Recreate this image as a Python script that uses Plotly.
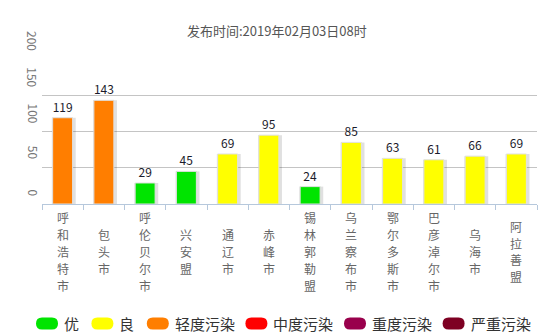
import plotly.graph_objects as go

# ---- data ----
cities = ["呼和浩特市", "包头市", "呼伦贝尔市", "兴安盟", "通辽市", "赤峰市",
          "锡林郭勒盟", "乌兰察布市", "鄂尔多斯市", "巴彦淖尔市", "乌海市", "阿拉善盟"]
aqi = [119, 143, 29, 45, 69, 95, 24, 85, 63, 61, 66, 69]
level_names = ["优", "良", "轻度污染", "中度污染", "重度污染", "严重污染"]
level_colors = ["#00e400", "#ffff00", "#ff7e00", "#ff0000", "#99004c", "#7e0023"]
level_upper = [50, 100, 150, 200, 300, 10000]
y_ticks = [0, 50, 100, 150, 200]
title_text = "发布时间:2019年02月03日08时"

FONT = "Noto Sans CJK SC, Microsoft YaHei, sans-serif"
W, H = 548, 335
L, R, T, B = 42, 11, 59, 131
PW, PH = W - L - R, H - T - B


def level_color(v):
    for up, c in zip(level_upper, level_colors):
        if v <= up:
            return c
    return level_colors[-1]


bar_colors = [level_color(v) for v in aqi]

fig = go.Figure()
# soft shadow behind bars
fig.add_trace(go.Bar(
    x=cities, y=aqi, width=0.58, offset=-0.262,
    marker=dict(color="rgba(0,0,0,0.12)", line=dict(width=0)),
    hoverinfo="skip", showlegend=False,
))
fig.add_trace(go.Bar(
    x=cities, y=aqi, width=0.484, offset=-0.242,
    marker=dict(color=bar_colors, line=dict(color="rgba(225,225,225,1)", width=1)),
    text=[str(v) for v in aqi], textposition="outside",
    textfont=dict(family=FONT, size=12, color="#1a1a2a"),
    cliponaxis=False, showlegend=False,
))

annotations = []
# title
annotations.append(dict(
    text=title_text, xref="paper", yref="paper",
    x=(277 - L) / PW, y=(T + PH - 30) / PH, xanchor="center", yanchor="middle",
    showarrow=False, font=dict(family=FONT, size=13, color="#555"),
))
# y tick labels (rotated)
for t in y_ticks:
    annotations.append(dict(
        text=str(t), xref="paper", yref="y", x=(33 - L) / PW, y=t,
        xanchor="center", yanchor="bottom", yshift=6, textangle=90,
        showarrow=False, font=dict(family=FONT, size=12, color="#777"),
    ))
# category labels (vertical, one glyph per line, centred on a common line)
label_center_px = 251.5
line_step = 16.8
for c in cities:
    n = len(c)
    for i, ch in enumerate(c):
        cy = label_center_px + (i - (n - 1) / 2) * line_step
        annotations.append(dict(
            text=ch, xref="x", yref="y", x=c, y=0,
            xanchor="center", yanchor="middle", yshift=-(cy - (T + PH)),
            showarrow=False, font=dict(family=FONT, size=12, color="#666"),
        ))

# legend drawn manually (pill symbols)
shapes = []


def px2paper(px, py):
    return (px - L) / PW, (T + PH - py) / PH


x_cursor = 36
sym_w, sym_h, r = 22, 12, 6
yc = 323.5
for name, col in zip(level_names, level_colors):
    x0, x1 = x_cursor, x_cursor + sym_w
    y0, y1 = yc - sym_h / 2, yc + sym_h / 2
    pts = [
        ("M", [(x0 + r, y0)]),
        ("L", [(x1 - r, y0)]),
        ("Q", [(x1, y0), (x1, yc)]),
        ("Q", [(x1, y1), (x1 - r, y1)]),
        ("L", [(x0 + r, y1)]),
        ("Q", [(x0, y1), (x0, yc)]),
        ("Q", [(x0, y0), (x0 + r, y0)]),
    ]
    path = ""
    for cmd, ps in pts:
        path += cmd + " ".join("%.5f,%.5f" % px2paper(a, b) for a, b in ps) + " "
    path += "Z"
    shapes.append(dict(type="path", xref="paper", yref="paper", path=path,
                       fillcolor=col, line=dict(width=0)))
    tx, ty = px2paper(x1 + 4, yc)
    annotations.append(dict(
        text=name, xref="paper", yref="paper", x=tx, y=ty,
        xanchor="left", yanchor="middle", showarrow=False,
        font=dict(family=FONT, size=15, color="#333"),
    ))
    x_cursor = x1 + 5 + len(name) * 14.4 + 14

fig.update_layout(
    width=W, height=H, autosize=False,
    margin=dict(l=L, r=R, t=T, b=B, pad=0),
    paper_bgcolor="white", plot_bgcolor="white",
    barmode="overlay", showlegend=False,
    annotations=annotations, shapes=shapes,
    xaxis=dict(type="category", range=[-0.5, len(cities) - 0.5],
               showticklabels=False, showgrid=False, showline=True,
               linecolor="#b6c8dc", linewidth=1, ticks="outside",
               tickson="boundaries", ticklen=5, tickcolor="#b6c8dc",
               fixedrange=True),
    yaxis=dict(range=[0, 200], tickvals=y_ticks, showticklabels=False,
               showgrid=True, gridcolor="#c4c4c4", gridwidth=1,
               zeroline=False, showline=False, fixedrange=True),
    font=dict(family=FONT),
)

fig.write_html("out.html", config={"displayModeBar": False})
